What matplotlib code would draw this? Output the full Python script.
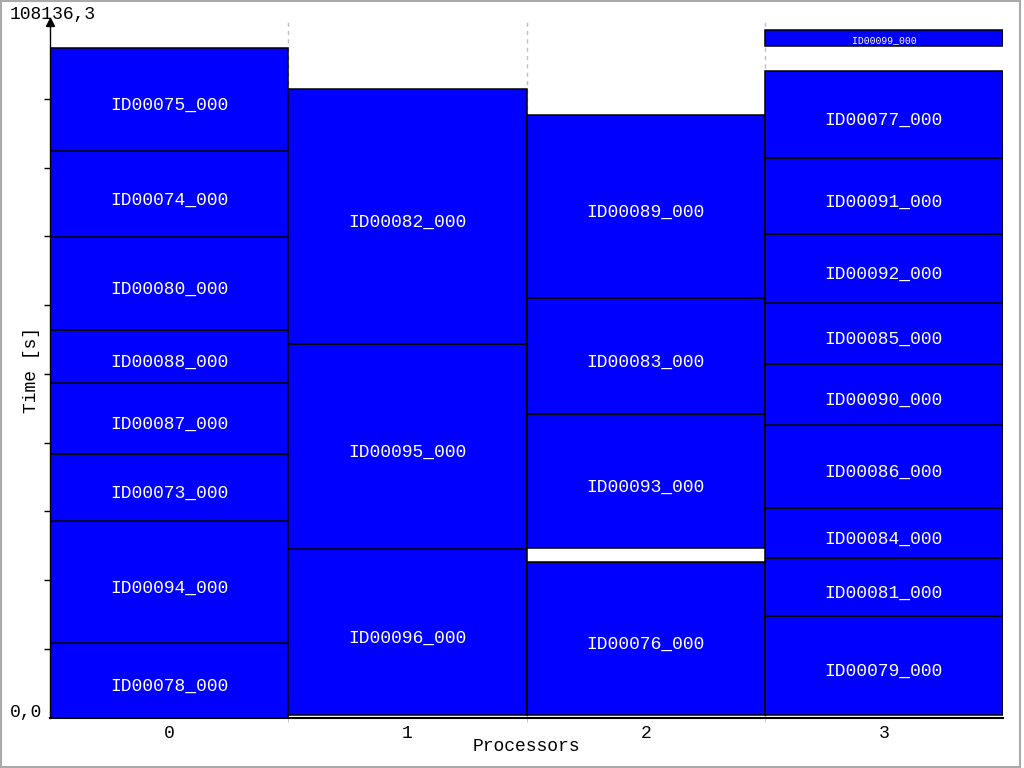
import numpy as np
import matplotlib
matplotlib.use('Agg')
import matplotlib.pyplot as plt
from matplotlib.patches import Rectangle

plt.rcParams['font.family'] = ['Liberation Mono', 'DejaVu Sans Mono']

# schedule (seconds)
makespan = 108136.3
procs = ['0', '1', '2', '3']

task_names = ['ID00078_000', 'ID00094_000', 'ID00073_000', 'ID00087_000',
              'ID00088_000', 'ID00080_000', 'ID00074_000', 'ID00075_000',
              'ID00096_000', 'ID00095_000', 'ID00082_000',
              'ID00076_000', 'ID00093_000', 'ID00083_000', 'ID00089_000',
              'ID00079_000', 'ID00081_000', 'ID00084_000', 'ID00086_000',
              'ID00090_000', 'ID00085_000', 'ID00092_000', 'ID00091_000',
              'ID00077_000', 'ID00099_000']
task_proc = [0, 0, 0, 0, 0, 0, 0, 0,
             1, 1, 1,
             2, 2, 2, 2,
             3, 3, 3, 3, 3, 3, 3, 3, 3, 3]
task_start = [0, 11723, 30921, 41464, 52637, 60977, 75612, 89145,
              315, 26516, 58774,
              315, 26672, 47759, 66013,
              315, 15972, 25099, 32967, 46028, 55627, 65226, 76084, 88043,
              105620]
task_end = [11723, 30921, 41464, 52637, 60977, 75612, 89145, 105353,
            26516, 58774, 98901,
            24469, 47759, 66013, 94809,
            15972, 25099, 32967, 46028, 55627, 65226, 76084, 88043, 101733,
            108136.3]

# idle slots drawn as empty boxes
idle_proc = [2]
idle_start = [24469]
idle_end = [26672]

fig = plt.figure(figsize=(10.24, 7.68), dpi=100)
ax = fig.add_axes([50 / 1024, 50.5 / 768, 953 / 1024, 695.5 / 768])

starts = np.array(task_start)
ends = np.array(task_end)
ax.bar(task_proc, ends - starts, bottom=starts, width=1, align='edge',
       color='#0000ff', edgecolor='black', linewidth=1.1, zorder=2)
ax.bar(idle_proc, np.array(idle_end) - np.array(idle_start), bottom=idle_start,
       width=1, align='edge', color='white', edgecolor='black', linewidth=1.1, zorder=2)

for name, p, s, e in zip(task_names, task_proc, starts, ends):
    small = (e - s) < 4000
    ax.annotate(name, xy=(p + 0.5, (s + e) / 2), xytext=(0, -3.2 if small else -7.6),
                textcoords='offset points', ha='center', va='baseline',
                color='white', fontsize=7 if small else 13, zorder=3)

ax.set_xlim(0, 4)
ax.set_ylim(0, makespan * 695.5 / 687.2)

for x in range(1, 4):
    ax.axvline(x, color='#c0c0c0', linestyle=(0, (3, 3)), linewidth=1, zorder=1)

ax.set_xticks(np.arange(4) + 0.5)
ax.set_xticklabels(procs, fontsize=13)
ax.tick_params(axis='x', length=0, pad=5.5)
ax.set_xticks([1, 2, 3], minor=True)
ax.tick_params(axis='x', which='minor', length=3, color='#c0c0c0')
ax.set_xlabel('Processors', fontsize=13, labelpad=-3)

ax.set_yticks(np.arange(1, 10) * makespan / 10)
ax.set_yticklabels([])
ax.tick_params(axis='y', length=4, width=1, direction='out')

for side in ['top', 'right']:
    ax.spines[side].set_visible(False)
ax.spines['left'].set_linewidth(1)
ax.spines['bottom'].set_linewidth(1.5)
ax.plot(0, 1, marker='^', color='black', markersize=5.5, transform=ax.transAxes,
        clip_on=False, zorder=5)

fig.text(10 / 1024, 1 - 15 / 768, '108136,3', ha='left', va='center', fontsize=13)
fig.text(42 / 1024, 1 - 712 / 768, '0,0', ha='right', va='center', fontsize=13)
fig.text(31 / 1024, 1 - 370 / 768, 'Time [s]', rotation=90, ha='center',
         va='center', fontsize=13)

fig.patches.append(Rectangle((0.5 / 1024, 1.5 / 768), 1019.5 / 1024, 766 / 768,
                             transform=fig.transFigure, fill=False,
                             edgecolor='#aaaaaa', linewidth=1.5))

fig.savefig('out.png', dpi=100)
